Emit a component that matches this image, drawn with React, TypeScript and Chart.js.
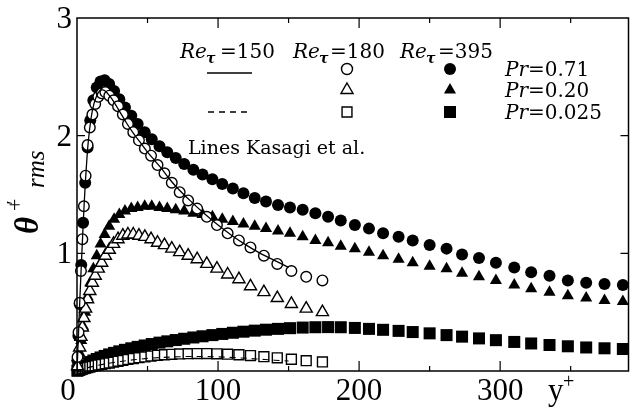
import { useEffect, useRef } from 'react';
import { Chart, registerables } from 'chart.js';

Chart.register(...registerables);

// Re_tau = 180 DNS (open symbols)
const yPlus180 = [
  0.4, 1.1, 1.9, 2.8, 3.8, 4.9, 6.1, 7.5, 9.1, 10.9, 12.9, 15.1, 17.5, 20.1, 22.9, 25.9, 29.1, 32.5, 36.1,
  39.9, 43.9, 48.1, 52.5, 57.1, 62, 67.2, 72.8, 78.8, 85.2, 92, 99.2, 106.8, 114.8, 123, 132.5, 142, 152,
  162.5, 174,
];
const theta180Pr071 = [
  0.12, 0.33, 0.58, 0.85, 1.12, 1.4, 1.66, 1.92, 2.07, 2.18, 2.27, 2.33, 2.36, 2.37, 2.34, 2.3, 2.25, 2.18, 2.1,
  2.03, 1.96, 1.89, 1.83, 1.75, 1.68, 1.6, 1.52, 1.45, 1.38, 1.31, 1.24, 1.17, 1.11, 1.05, 0.98, 0.91, 0.85,
  0.8, 0.77,
];
const theta180Pr020 = [
  0.04, 0.12, 0.2, 0.29, 0.37, 0.45, 0.53, 0.61, 0.68, 0.75, 0.81, 0.87, 0.92, 0.98, 1.03, 1.08, 1.12, 1.15, 1.16,
  1.16, 1.15, 1.14, 1.12, 1.09, 1.07, 1.04, 1.01, 0.98, 0.95, 0.91, 0.87, 0.82, 0.78, 0.72, 0.67, 0.62, 0.57,
  0.53, 0.5,
];
const theta180Pr0025 = [
  0.002, 0.005, 0.008, 0.012, 0.016, 0.02, 0.024, 0.029, 0.034, 0.039, 0.045, 0.05, 0.056, 0.062, 0.068, 0.075,
  0.082, 0.09, 0.098, 0.106, 0.113, 0.12, 0.127, 0.133, 0.138, 0.142, 0.145, 0.147, 0.148, 0.148, 0.146, 0.143,
  0.138, 0.131, 0.122, 0.112, 0.1, 0.088, 0.077,
];

// Re_tau = 395 DNS (filled symbols)
const yPlus395 = [
  0.3, 1.0, 1.9, 3.0, 4.3, 5.8, 7.5, 9.4, 11.6, 14.0, 16.7, 19.6, 22.8, 26.3, 30.0, 34.0, 38.5, 43.0, 48.0, 53.0,
  58.5, 64.0, 70.0, 76.0, 82.5, 89.0, 96.0, 103.0, 110.5, 118.0, 126.0, 134.0, 142.5, 151.0, 160, 169, 178, 187,
  197, 207, 217, 228, 238, 250, 262, 273, 285, 297, 310, 322, 335, 348, 361, 374, 387,
];
const theta395Pr071 = [
  0.09, 0.3, 0.57, 0.9, 1.26, 1.6, 1.9, 2.13, 2.3, 2.41, 2.46, 2.47, 2.44, 2.38, 2.31, 2.24, 2.17, 2.1, 2.03, 1.97,
  1.91, 1.86, 1.81, 1.76, 1.71, 1.67, 1.63, 1.59, 1.55, 1.51, 1.47, 1.44, 1.41, 1.39, 1.37, 1.34, 1.31, 1.28,
  1.24, 1.21, 1.17, 1.14, 1.11, 1.07, 1.04, 0.99, 0.96, 0.92, 0.88, 0.84, 0.81, 0.77, 0.75, 0.74, 0.73,
];
const theta395Pr020 = [
  0.02, 0.07, 0.15, 0.26, 0.38, 0.5, 0.63, 0.75, 0.87, 0.98, 1.08, 1.16, 1.23, 1.29, 1.33, 1.36, 1.38, 1.39, 1.4,
  1.4, 1.39, 1.38, 1.37, 1.36, 1.34, 1.33, 1.31, 1.29, 1.27, 1.25, 1.23, 1.21, 1.19, 1.17, 1.14, 1.11, 1.09, 1.06,
  1.04, 1.01, 0.98, 0.95, 0.92, 0.89, 0.87, 0.83, 0.8, 0.77, 0.73, 0.7, 0.67, 0.64, 0.62, 0.6, 0.59,
];
const theta395Pr0025 = [
  0.003, 0.01, 0.019, 0.029, 0.04, 0.052, 0.064, 0.076, 0.089, 0.102, 0.115, 0.128, 0.141, 0.154, 0.167, 0.18,
  0.193, 0.205, 0.217, 0.229, 0.241, 0.252, 0.263, 0.274, 0.285, 0.295, 0.305, 0.315, 0.325, 0.334, 0.343, 0.351,
  0.358, 0.364, 0.369, 0.372, 0.373, 0.372, 0.366, 0.358, 0.35, 0.341, 0.331, 0.32, 0.305, 0.292, 0.277, 0.262,
  0.247, 0.234, 0.221, 0.21, 0.2, 0.193, 0.187,
];

// Re_tau = 150 reference curves (Kasagi et al.)
const kasagiYPlus = [
  0, 1, 2, 3, 4, 5, 6, 7, 8, 10, 12, 14, 16, 18, 20, 23, 26, 30, 35, 40, 45, 50, 55, 60, 65, 70, 80, 90, 100, 110,
  120, 130, 140, 150,
];
const kasagiPr071 = [
  0, 0.3, 0.6, 0.88, 1.15, 1.4, 1.62, 1.8, 1.95, 2.15, 2.27, 2.34, 2.38, 2.39, 2.38, 2.34, 2.29, 2.21, 2.11, 2.02,
  1.94, 1.86, 1.79, 1.72, 1.64, 1.57, 1.45, 1.34, 1.24, 1.15, 1.07, 1.0, 0.94, 0.88,
];
const kasagiLowYPlus = [0, 5, 10, 20, 30, 40, 50, 60, 70, 80, 90, 100, 110, 120, 130, 140, 150];
const kasagiPr0025 = [
  0, 0.02, 0.035, 0.06, 0.08, 0.095, 0.107, 0.115, 0.12, 0.123, 0.123, 0.12, 0.115, 0.108, 0.1, 0.092, 0.085,
];

const xTicks = [0, 100, 200, 300];
const xMinorTicks = [50, 150, 250, 350];
const yTicks = [1, 2, 3];
const reLabels = ['150', '180', '395'];
const prLabels = ['0.71', '0.20', '0.025'];

const TICK_FONT = '31px "Liberation Serif"';
const TEXT = '"DejaVu Serif"';

const pts = (xs: number[], ys: number[]) => xs.map((x, i) => ({ x, y: ys[i] }));

type Kind = 'circle' | 'triangle' | 'rect';

function drawMarker(ctx: CanvasRenderingContext2D, kind: Kind, filled: boolean, cx: number, cy: number, r: number) {
  ctx.beginPath();
  if (kind === 'circle') {
    ctx.arc(cx, cy, r, 0, Math.PI * 2);
  } else if (kind === 'triangle') {
    for (let k = 0; k < 3; k++) {
      const a = (k * 2 * Math.PI) / 3;
      const px = cx + Math.sin(a) * r;
      const py = cy - Math.cos(a) * r;
      if (k === 0) ctx.moveTo(px, py);
      else ctx.lineTo(px, py);
    }
    ctx.closePath();
  } else {
    const s = r * Math.SQRT1_2;
    ctx.rect(cx - s, cy - s, 2 * s, 2 * s);
  }
  if (filled) {
    ctx.fillStyle = '#000';
    ctx.fill();
  } else {
    ctx.fillStyle = '#fff';
    ctx.fill();
    ctx.lineWidth = 1.4;
    ctx.strokeStyle = '#000';
    ctx.stroke();
  }
}

const framePlugin = {
  id: 'frameAndText',
  afterDatasetsDraw(chart: any) {
    const { ctx, chartArea: a, scales } = chart;
    const xs = scales.x;
    const ys = scales.y;
    ctx.save();
    ctx.strokeStyle = '#000';
    ctx.fillStyle = '#000';

    // box
    ctx.lineWidth = 1.5;
    ctx.strokeRect(a.left, a.top, a.right - a.left, a.bottom - a.top);

    // inward ticks
    ctx.lineWidth = 1.2;
    ctx.beginPath();
    for (const v of xTicks) {
      if (v === 0) continue;
      const px = xs.getPixelForValue(v);
      ctx.moveTo(px, a.bottom);
      ctx.lineTo(px, a.bottom - 10);
      ctx.moveTo(px, a.top);
      ctx.lineTo(px, a.top + 10);
    }
    for (const v of xMinorTicks) {
      const px = xs.getPixelForValue(v);
      ctx.moveTo(px, a.bottom);
      ctx.lineTo(px, a.bottom - 5);
      ctx.moveTo(px, a.top);
      ctx.lineTo(px, a.top + 5);
    }
    for (const v of yTicks) {
      if (v >= 3) continue;
      const py = ys.getPixelForValue(v);
      ctx.moveTo(a.left, py);
      ctx.lineTo(a.left + 8, py);
      ctx.moveTo(a.right, py);
      ctx.lineTo(a.right - 8, py);
    }
    ctx.stroke();

    // tick labels
    ctx.font = TICK_FONT;
    ctx.textBaseline = 'alphabetic';
    ctx.textAlign = 'center';
    for (const v of xTicks) {
      const px = xs.getPixelForValue(v) + (v === 0 ? -9 : 0);
      ctx.fillText(String(v), px, a.bottom + 29);
    }
    ctx.textAlign = 'right';
    ctx.textBaseline = 'middle';
    for (const v of yTicks) {
      ctx.fillText(String(v), a.left - 5, ys.getPixelForValue(v) + 2);
    }

    // x axis title
    ctx.textAlign = 'left';
    ctx.textBaseline = 'alphabetic';
    ctx.font = '31px "Liberation Serif"';
    ctx.fillText('y', 548, 400);
    ctx.font = '20px "Liberation Serif"';
    ctx.fillText('+', 563, 388);

    // y axis title, rotated
    ctx.save();
    ctx.translate(38, 234);
    ctx.rotate(-Math.PI / 2);
    ctx.font = 'italic bold 33px "Liberation Serif"';
    ctx.fillText('\u03B8', 0, 0);
    ctx.font = '22px "Liberation Serif"';
    ctx.fillText('+', 23, -16);
    ctx.font = 'italic 20px "Liberation Serif"';
    ctx.fillText('\u2032', 28, -17);
    ctx.font = 'italic 25px "Liberation Serif"';
    ctx.fillText('rms', 46, 6);
    ctx.restore();

    // legend block
    const reX = [180, 293, 400];
    const eqX = [220, 330, 438];
    reLabels.forEach((re, i) => {
      ctx.font = `italic 20px ${TEXT}`;
      ctx.fillText('Re', reX[i], 58);
      ctx.font = `italic bold 14px ${TEXT}`;
      ctx.fillText('\u03C4', reX[i] + 26, 63);
      ctx.font = `20px ${TEXT}`;
      ctx.fillText('=' + re, eqX[i], 58);
    });

    const rowY = [69, 90, 112];
    const kinds: Kind[] = ['circle', 'triangle', 'rect'];
    const openR = [5.5, 7, 7];
    const fillR = [6, 7, 8.5];
    prLabels.forEach((pr, i) => {
      drawMarker(ctx, kinds[i], false, 347, rowY[i], openR[i]);
      drawMarker(ctx, kinds[i], true, 450, rowY[i], fillR[i]);
      ctx.fillStyle = '#000';
      ctx.font = `italic 20px ${TEXT}`;
      ctx.fillText('Pr', 505, rowY[i] + 7);
      const w = ctx.measureText('Pr').width;
      ctx.font = `20px ${TEXT}`;
      ctx.fillText('=' + pr, 505 + w, rowY[i] + 7);
    });

    ctx.lineWidth = 1.3;
    ctx.beginPath();
    ctx.moveTo(207, 73);
    ctx.lineTo(252, 73);
    ctx.stroke();
    ctx.setLineDash([6, 5]);
    ctx.beginPath();
    ctx.moveTo(208, 112);
    ctx.lineTo(252, 112);
    ctx.stroke();
    ctx.setLineDash([]);

    ctx.font = `19px ${TEXT}`;
    ctx.fillText('Lines Kasagi et al.', 188, 154);

    ctx.restore();
  },
};

export default function App() {
  const canvasRef = useRef<HTMLCanvasElement | null>(null);

  useEffect(() => {
    const canvas = canvasRef.current;
    if (!canvas) return;

    const open = (data: { x: number; y: number }[], style: Kind, r: number) => ({
      data,
      showLine: false,
      pointStyle: style,
      pointRadius: r,
      pointBackgroundColor: '#fff',
      pointBorderColor: '#000',
      pointBorderWidth: 1.4,
      clip: false as const,
    });
    const filled = (data: { x: number; y: number }[], style: Kind, r: number) => ({
      data,
      showLine: false,
      pointStyle: style,
      pointRadius: r,
      pointBackgroundColor: '#000',
      pointBorderColor: '#000',
      pointBorderWidth: 0,
      clip: false as const,
    });

    const chart = new Chart(canvas, {
      type: 'scatter',
      data: {
        datasets: [
          {
            data: pts(kasagiYPlus, kasagiPr071),
            showLine: true,
            pointRadius: 0,
            borderColor: '#000',
            borderWidth: 1.3,
            cubicInterpolationMode: 'monotone',
          },
          {
            data: pts(kasagiLowYPlus, kasagiPr0025),
            showLine: true,
            pointRadius: 0,
            borderColor: '#000',
            borderWidth: 1.1,
            borderDash: [6, 5],
            cubicInterpolationMode: 'monotone',
          },
          open(pts(yPlus180, theta180Pr071), 'circle', 5.3),
          open(pts(yPlus180, theta180Pr020), 'triangle', 7),
          open(pts(yPlus180, theta180Pr0025), 'rect', 7),
          filled(pts(yPlus395, theta395Pr071), 'circle', 6),
          filled(pts(yPlus395, theta395Pr020), 'triangle', 7),
          filled(pts(yPlus395, theta395Pr0025), 'rect', 8.5),
        ] as any,
      },
      options: {
        responsive: false,
        animation: false,
        devicePixelRatio: 1,
        events: [],
        layout: { padding: { left: 77, right: 2, top: 18, bottom: 47 } },
        plugins: { legend: { display: false }, tooltip: { enabled: false } },
        scales: {
          x: { type: 'linear', min: 0, max: 391, display: false },
          y: { type: 'linear', min: 0, max: 3, display: false },
        },
      },
      plugins: [framePlugin],
    });

    return () => chart.destroy();
  }, []);

  return (
    <div style={{ position: 'absolute', left: 0, top: 0, width: 637, height: 418, background: '#fff' }}>
      <canvas ref={canvasRef} width={637} height={418} style={{ display: 'block' }} />
    </div>
  );
}
